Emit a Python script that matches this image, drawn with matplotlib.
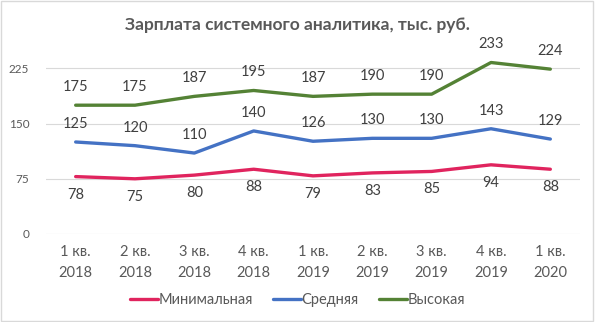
import matplotlib.pyplot as plt
from matplotlib.patches import Rectangle

plt.rcParams['font.family'] = ['Lato', 'DejaVu Sans']

quarters = ['1 кв.\n2018', '2 кв.\n2018', '3 кв.\n2018', '4 кв.\n2018',
            '1 кв.\n2019', '2 кв.\n2019', '3 кв.\n2019', '4 кв.\n2019', '1 кв.\n2020']
min_pay = [78, 75, 80, 88, 79, 83, 85, 94, 88]
avg_pay = [125, 120, 110, 140, 126, 130, 130, 143, 129]
high_pay = [175, 175, 187, 195, 187, 190, 190, 233, 224]
yticks = [0, 75, 150, 225]

fig = plt.figure(figsize=(5.95, 3.22), dpi=100)
ax = fig.add_axes([46 / 595, 1 - 234 / 322, 534 / 595, 184 / 322])

x = list(range(len(quarters)))
series = [
    ('Минимальная', min_pay, '#E0245E', -1),
    ('Средняя', avg_pay, '#4472C4', 1),
    ('Высокая', high_pay, '#548235', 1),
]
for name, vals, col, side in series:
    ax.plot(x, vals, color=col, lw=2.4, label=name, solid_capstyle='round')
    for xi, v in zip(x, vals):
        ax.annotate(str(v), (xi, v), xytext=(0, 13 * side), textcoords='offset points',
                    ha='center', va='center', fontsize=10.5, color='#404040')

ax.set_xlim(-0.5, len(quarters) - 0.5)
ax.set_ylim(0, 250)
ax.set_yticks(yticks)
ax.set_xticks(x)
ax.set_xticklabels(quarters, fontsize=10.5, color='#595959', linespacing=1.6)
ax.tick_params(axis='y', labelsize=8.5, colors='#595959', length=0, pad=12)
ax.tick_params(axis='x', length=0, pad=8)
ax.grid(axis='y', color='#d9d9d9', lw=0.8)
ax.set_axisbelow(True)
for s in ax.spines.values():
    s.set_visible(False)

fig.suptitle('Зарплата системного аналитика, тыс. руб.', x=0.5, y=1 - 25 / 322,
             va='center', fontsize=12.5, fontweight='bold', color='#595959')

fig.legend(loc='center', bbox_to_anchor=(0.5, 1 - 300 / 322), ncol=3, frameon=False,
           fontsize=10.5, handlelength=1.9, handletextpad=0.05, columnspacing=1.4,
           labelcolor='#595959')

fig.patches.append(Rectangle((0.002, 0.003), 0.995, 0.994, transform=fig.transFigure,
                             fill=False, edgecolor='#d9d9d9', lw=1))

fig.savefig('out.png', dpi=100)
